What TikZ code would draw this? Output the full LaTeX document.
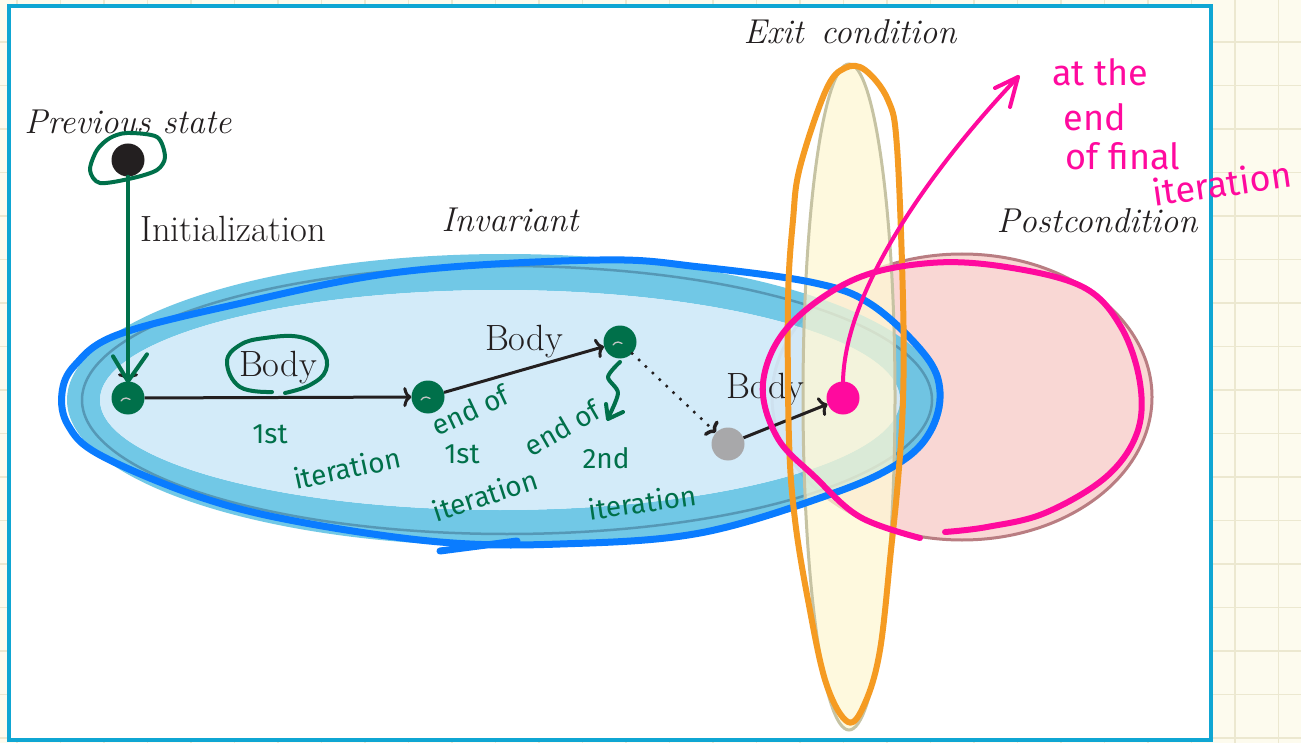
\documentclass[tikz,border=0pt]{standalone}
\usepackage{fontspec}
\newfontfamily\handfont{Fira Sans}
\usetikzlibrary{arrows.meta}

\definecolor{paper}{HTML}{FDFBEE}
\definecolor{gridline}{HTML}{ECE8D0}
\definecolor{frameblue}{HTML}{0FA6D3}
\definecolor{ink}{HTML}{231F20}
\definecolor{dotgray}{HTML}{A8A8AA}
\definecolor{pengreen}{HTML}{00704A}
\definecolor{penpink}{HTML}{FF0A9E}
\definecolor{penblue}{HTML}{0A7CFF}
\definecolor{penorange}{HTML}{F59B22}
\definecolor{invband}{HTML}{62C3E4}
\definecolor{invfill}{HTML}{D0EAF9}
\definecolor{invline}{HTML}{4F8DAA}
\definecolor{exitfill}{HTML}{FEF8D4}
\definecolor{exitline}{HTML}{C6C3A3}
\definecolor{postfill}{HTML}{F9D7D4}
\definecolor{postline}{HTML}{B97D82}

\begin{document}
\begin{tikzpicture}[x=1pt, y=-1pt,
  dot/.style={circle, inner sep=0pt, minimum size=33pt},
  conn/.style={draw=ink, line width=3pt, -{To[length=8pt,width=20pt]}},
  lbl/.style={text=ink, inner sep=1pt, font=\fontsize{36.5}{40}\selectfont},
  setlbl/.style={text=ink, inner sep=1pt, font=\fontsize{34.5}{40}\selectfont\itshape},
  pen/.style={line cap=round, line join=round},
  greenpen/.style={pen, draw=pengreen, line width=4pt},
  pinkpen/.style={pen, draw=penpink, line width=6pt},
  greenhand/.style={text=pengreen, inner sep=0pt, font=\handfont\fontsize{28}{30}\selectfont},
  pinkhand/.style={text=penpink, inner sep=0pt, font=\handfont\fontsize{36}{38}\selectfont}]
\useasboundingbox (0,0) rectangle (1301,743);

% notebook paper and the page frame
\fill[paper] (0,0) rectangle (1301,743);
\foreach \k in {0,...,17}
  \draw[gridline, line width=1.2pt] (0,{-1.5+43.5*\k}) -- (1301,{-1.5+43.5*\k});
\foreach \k in {0,...,29}
  \draw[gridline, line width=1.2pt] ({1278.5-43.5*\k},0) -- ({1278.5-43.5*\k},743);
\draw[frameblue, line width=4pt, fill=white] (9,6) rectangle (1211,740);

% sets
\fill[postfill] (962,397) ellipse [x radius=190, y radius=143];
\draw[postline, line width=3pt] (962,397) ellipse [x radius=190, y radius=143];
\fill[invband, even odd rule, opacity=.9] (505,400) ellipse [x radius=438, y radius=146]
  (500,400) ellipse [x radius=400, y radius=110];
\fill[invfill, opacity=.92] (500,400) ellipse [x radius=400, y radius=110];
\draw[invline, line width=2.5pt, opacity=.8] (507,400) ellipse [x radius=425, y radius=134];
\fill[exitfill, opacity=.75] (849,397) ellipse [x radius=46, y radius=333];
\draw[exitline, line width=3pt] (849,397) ellipse [x radius=46, y radius=333];

\node[setlbl] (prevlbl) at (128,122) {Previous state};
\node[setlbl] (invlbl) at (510,220) {Invariant};
\node[setlbl] (exitlbl) at (850,32) {Exit\hspace{0.5em}condition};
\node[setlbl] (postlbl) at (1097,221) {Postcondition};
\node[lbl, anchor=west] (initlbl) at (139,229) {Initialization};

% states
\node[dot, fill=ink] (P) at (128,160) {};
\node[dot, fill=pengreen] (S0) at (128,398) {};
\node[dot, fill=pengreen] (S1) at (428,397) {};
\node[dot, fill=pengreen] (S2) at (620,342) {};
\node[dot, fill=dotgray] (S3) at (728,444) {};
\node[dot, fill=penpink] (S4) at (843,398) {};
\foreach \s in {S0,S1,S2}
  \draw[gray!45, line width=1.3pt, line cap=round] ([shift={(-7,3)}]\s.center) arc[start angle=210, end angle=310, radius=6];

\draw[conn] (P) -- (S0);
\draw[conn] (S0) -- node[lbl, yshift=30pt] (b1) {Body} (S1);
\draw[conn] (S1) -- node[lbl, yshift=28pt] (b2) {Body} (S2);
\draw[conn, line width=3.5pt, line cap=round, dash pattern=on 0pt off 9.5pt] (S2) -- (S3);
\draw[conn] (S3) -- node[lbl, xshift=-20pt, yshift=31pt] (b3) {Body} (S4);

% blue pen round the invariant
\draw[pen, penblue, line width=7pt] plot[smooth cycle, tension=.6] coordinates {
  (560,544) (440,542) (300,522) (200,497) (100,455) (68,425) (62,393) (75,365)
  (117,335) (233,305) (400,272) (600,260) (700,267) (815,283) (872,305) (925,355)
  (940,392) (930,432) (899,463) (834,493) (700,533)};
\draw[pen, penblue, line width=7pt] (440,551) -- (517,541);

% orange pen round the exit condition
\draw[pen, penorange, line width=6pt] plot[smooth cycle, tension=.6] coordinates {
  (845,68) (865,70) (888,100) (897,147) (903,300) (903,400) (898,480) (891,550)
  (880,650) (865,703) (848,722) (826,683) (808,600) (795,520) (789,440) (788,300)
  (793,220) (800,167) (826,90)};

% green notes
\draw[greenpen] plot[smooth cycle] coordinates {(127,133) (157,137) (165,157) (157,170)
  (133,178) (100,183) (90,170) (97,150) (110,138)};
\draw[greenpen] (P.south) -- (S0.north);
\draw[greenpen] ([shift={(-15,-25)}]S0.north) -- (S0.north) -- ([shift={(19,-27)}]S0.north);
\draw[greenpen] plot[smooth, tension=.7] coordinates {(272,392) (240,387) (227,362) (240,345)
  (265,338) (300,337) (322,350) (326,370) (310,385) (285,393)};
\draw[greenpen] plot[smooth] coordinates {(620,362) (608,377) (618,393) (608,418)};
\draw[greenpen] (606,404) -- (608,419) -- (623,412);

\node[greenhand] (n1) at (270,434) {1st};
\node[greenhand, rotate=12] (n2) at (347,468) {iteration};
\node[greenhand, rotate=25] (n3) at (470,410) {end of};
\node[greenhand] (n4) at (462,454) {1st};
\node[greenhand, rotate=18] (n5) at (485,495) {iteration};
\node[greenhand, rotate=30] (n6) at (562,428) {end of};
\node[greenhand] (n7) at (606,458) {2nd};
\node[greenhand, rotate=8] (n8) at (642,502) {iteration};

% pink notes
\draw[pinkpen] plot[smooth, tension=.6] coordinates {(920,538) (860,517) (815,477) (777,437)
  (763,383) (788,327) (853,280) (930,263) (1006,267) (1083,287) (1121,327) (1140,383)
  (1137,433) (1106,477) (1045,513) (987,527) (945,532)};
\coordinate (tip) at (1018,77);
\draw[pinkpen, line width=4pt] (S4.north) .. controls (845,290) and (930,170) .. (tip);
\draw[pinkpen, line width=4pt] (995,88) -- (tip) -- (1010,107);

\node[pinkhand] (m1) at (1100,72) {at the};
\node[pinkhand] (m2) at (1095,117) {end};
\node[pinkhand] (m3) at (1123,156) {of final};
\node[pinkhand, rotate=8] (m4) at (1222,183) {iteration};
\end{tikzpicture}
\end{document}
